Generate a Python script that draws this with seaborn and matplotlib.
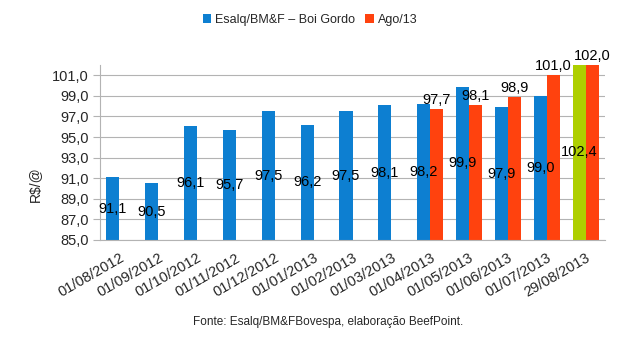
import numpy as np
import pandas as pd
import matplotlib
matplotlib.use("Agg")
import matplotlib.pyplot as plt
from matplotlib.patches import Patch
import seaborn as sns

categories = ["01/08/2012", "01/09/2012", "01/10/2012", "01/11/2012", "01/12/2012",
              "01/01/2013", "01/02/2013", "01/03/2013", "01/04/2013", "01/05/2013",
              "01/06/2013", "01/07/2013", "29/08/2013"]
esalq = [91.1, 90.5, 96.1, 95.7, 97.5, 96.2, 97.5, 98.1, 98.2, 99.9, 97.9, 99.0, 102.4]
ago13 = [np.nan, np.nan, np.nan, np.nan, np.nan, np.nan, np.nan, np.nan,
         97.7, 98.1, 98.9, 101.0, 102.0]
series_names = ["Esalq/BM&F \u2013 Boi Gordo", "Ago/13"]
yticks = [85, 87, 89, 91, 93, 95, 97, 99, 101]

BLUE = "#0d7fd1"
ORANGE = "#ff420e"
GREEN = "#aecf00"
GRID = "#b3b3b3"

sns.set_theme(style="white")
plt.rcParams["font.family"] = ["Liberation Sans", "DejaVu Sans"]

df = pd.DataFrame({
    "cat": categories * 2,
    "serie": [series_names[0]] * len(categories) + [series_names[1]] * len(categories),
    "val": esalq + ago13,
})

fig = plt.figure(figsize=(6.30, 3.49), dpi=100)
ax = fig.add_axes([100 / 630, (349 - 240) / 349, 505 / 630, 175 / 349])

sns.barplot(data=df, x="cat", y="val", hue="serie", order=categories,
            hue_order=series_names, palette=[BLUE, ORANGE], width=0.67,
            dodge=True, gap=0, legend=False, ax=ax, saturation=1, errorbar=None)

ymin, ymax = 85, 102
ax.set_ylim(ymin, ymax)
ax.set_xlim(-0.5, len(categories) - 0.5)

blue_bars = list(ax.containers[0])
orange_bars = list(ax.containers[1])
blue_bars[-1].set_facecolor(GREEN)
for p in blue_bars + orange_bars:
    p.set_edgecolor("none")
    p.set_linewidth(0)

def fmt(v):
    return f"{v:.1f}".replace(".", ",")

# blue labels centered in the visible part of the bar
for p, v in zip(blue_bars, esalq):
    xc = p.get_x() + p.get_width() / 2
    top = min(p.get_height(), ymax)
    ax.text(xc, (ymin + top) / 2, fmt(v), ha="center", va="center",
            fontsize=10.5, color="black")

# orange labels above the bar
orange_vals = [v for v in ago13 if not np.isnan(v)]
for p, v in zip(orange_bars, orange_vals):
    xc = p.get_x() + p.get_width() / 2
    ax.annotate(fmt(v), (xc, min(p.get_height(), ymax)), xytext=(0, 1.5),
                textcoords="offset points", ha="center", va="bottom",
                fontsize=10.5, color="black", annotation_clip=False)

# axes styling
ax.set_yticks(yticks)
ax.set_yticklabels([fmt(t) for t in yticks], fontsize=10.5)
ax.yaxis.grid(True, color=GRID, linewidth=0.8)
ax.set_axisbelow(True)
ax.set_xticks(range(len(categories)))
ax.set_xticklabels(categories, rotation=30, ha="right", rotation_mode="anchor",
                   fontsize=10.5)
ax.set_xticks(np.arange(-0.5, len(categories), 1), minor=True)
ax.tick_params(axis="x", which="major", length=0, pad=8)
ax.tick_params(axis="x", which="minor", length=5, color=GRID, width=0.8)
ax.tick_params(axis="y", length=5, color=GRID, width=0.8, pad=3, left=True)
ax.set_xlabel("")
ax.set_ylabel("")
for s in ["top", "right"]:
    ax.spines[s].set_visible(False)
for s in ["left", "bottom"]:
    ax.spines[s].set_color(GRID)
    ax.spines[s].set_linewidth(0.8)

fig.text(35 / 630, 1 - 184 / 349, "R\\$/@", rotation=90, ha="center", va="center",
         fontsize=10)

handles = [Patch(facecolor=BLUE, edgecolor="none"), Patch(facecolor=ORANGE, edgecolor="none")]
fig.legend(handles, series_names, loc="center", bbox_to_anchor=(310 / 630, 1 - 20 / 349),
           ncol=2, frameon=False, fontsize=9, handlelength=0.7, handleheight=0.7,
           handletextpad=0.3, columnspacing=0.8)

fig.text(328 / 630, 1 - 322 / 349, "Fonte: Esalq/BM&FBovespa, elabora\u00e7\u00e3o BeefPoint.",
         ha="center", va="center", fontsize=8.5)

fig.savefig("out.png", dpi=100, facecolor="white")
